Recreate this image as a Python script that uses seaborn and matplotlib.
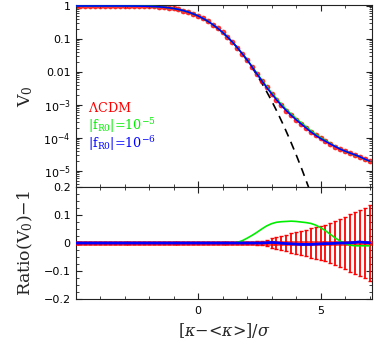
import numpy as np
import pandas as pd
import matplotlib
matplotlib.use("Agg")
import matplotlib.pyplot as plt
import seaborn as sns
from matplotlib.ticker import FixedLocator, MultipleLocator, LogLocator, NullFormatter, FixedFormatter

# ---------------- data ----------------
nu = np.round(np.arange(-5.0, 7.01, 0.2), 1)

lcdm_v0 = [1.0, 1.0, 1.0, 1.0, 1.0, 1.0, 0.9999, 0.9998, 0.9997, 0.9993,
           0.9987, 0.9974, 0.9953, 0.9918, 0.9861, 0.9772, 0.9641, 0.9452, 0.9192, 0.8849,
           0.8413, 0.7881, 0.7257, 0.6554, 0.5793,
           0.500, 0.421, 0.345, 0.274, 0.212, 0.159, 0.115, 0.081, 0.055, 0.036,
           0.0235, 0.0145, 0.0088, 0.0055, 0.0034, 0.0022, 0.00145, 0.00097, 0.00068, 0.00049,
           0.00036, 0.000272, 0.000205, 0.000155, 0.000121, 0.000097, 0.000080, 0.000066, 0.000055, 0.000046,
           0.000040, 0.000035, 0.000031, 0.000027, 0.000023, 0.000020]

lcdm_err = [0.002] * 34 + [0.003, 0.004, 0.005, 0.006, 0.008, 0.012, 0.017, 0.021, 0.025,
                           0.030, 0.035, 0.040, 0.044, 0.048, 0.052, 0.056, 0.060, 0.066,
                           0.072, 0.078, 0.086, 0.094, 0.102, 0.110, 0.118, 0.126, 0.134]

f5_ratio = [0.0] * 33 + [0.002, 0.008, 0.017, 0.027, 0.038, 0.050, 0.061, 0.069, 0.074, 0.076,
                         0.077, 0.078, 0.077, 0.075, 0.073, 0.070, 0.064, 0.055, 0.044, 0.031,
                         0.018, 0.007, -0.002, -0.008, -0.010, -0.010, -0.010, -0.010]

f6_ratio = [0.0] * 39 + [0.001, 0.002, 0.001, -0.001, -0.002, -0.003, -0.004, -0.005, -0.005,
                         -0.005, -0.004, -0.003, -0.002, -0.002, -0.001, 0.0, 0.0, 0.001,
                         0.002, 0.004, 0.002, 0.001]

gauss_nu = [-5.0, -3.0, -2.0, -1.5, -1.0, -0.5, 0.0, 0.5, 1.0, 1.25, 1.5, 1.75, 2.0, 2.25,
            2.5, 2.75, 3.0, 3.25, 3.5, 3.75, 4.0, 4.25, 4.5, 4.75]
gauss_v0 = [1.0, 0.99865, 0.977, 0.933, 0.841, 0.691, 0.5, 0.309, 0.159, 0.106, 0.0668, 0.0401,
            0.0228, 0.0122, 6.21e-3, 2.98e-3, 1.35e-3, 5.77e-4, 2.33e-4, 8.84e-5, 3.17e-5,
            1.07e-5, 3.40e-6, 1.02e-6]

assert len(lcdm_v0) == len(nu) == len(lcdm_err) == len(f5_ratio) == len(f6_ratio)

df = pd.DataFrame({"nu": nu, "lcdm": lcdm_v0, "err": lcdm_err,
                   "r5": f5_ratio, "r6": f6_ratio})
df["f5"] = df["lcdm"] * (1 + df["r5"])
df["f6"] = df["lcdm"] * (1 + df["r6"])
df["zero"] = 0.0
gdf = pd.DataFrame({"nu": gauss_nu, "v0": gauss_v0})

# ---------------- style ----------------
sns.set_style("ticks")
plt.rcParams["font.family"] = ["DejaVu Serif"]
plt.rcParams["mathtext.fontset"] = "custom"
plt.rcParams["mathtext.rm"] = "DejaVu Serif"
plt.rcParams["mathtext.it"] = "DejaVu Serif:italic"
plt.rcParams["mathtext.sf"] = "DejaVu Sans"

W, H = 374, 345
fig = plt.figure(figsize=(W / 100, H / 100), dpi=100)
L, R = 75.5 / W, 372 / W
ax1 = fig.add_axes([L, 1 - 187 / H, R - L, (187 - 5) / H])
ax2 = fig.add_axes([L, 1 - 299 / H, R - L, (299 - 187) / H])

RED, GREEN, BLUE = "#ff0000", "#00ee00", "#0000ff"

# top panel
sns.lineplot(data=gdf, x="nu", y="v0", ax=ax1, color="black", lw=1.2,
             dashes=False, estimator=None, sort=False, zorder=1)
ax1.lines[-1].set_dashes((5, 3.5))
sns.scatterplot(data=df, x="nu", y="lcdm", ax=ax1, color=RED, s=13, marker="o",
                edgecolor=RED, linewidth=0.5, alpha=0.8, zorder=2)
sns.lineplot(data=df, x="nu", y="f5", ax=ax1, color=GREEN, lw=1.2, estimator=None, zorder=3)
sns.lineplot(data=df, x="nu", y="f6", ax=ax1, color=BLUE, lw=1.2, estimator=None, zorder=4)

ax1.set_yscale("log")
ax1.set_xlim(-5.0, 7.1)
ax1.set_ylim(3.27e-6, 1.07)

# bottom panel
ax2.errorbar(df["nu"], df["zero"], yerr=df["err"], fmt="none", ecolor=RED,
             elinewidth=1.3, capsize=1.6, capthick=1.0, zorder=2)
sns.scatterplot(data=df, x="nu", y="zero", ax=ax2, color=RED, s=12, marker="s",
                edgecolor=RED, linewidth=0.5, alpha=0.8, zorder=3)
sns.lineplot(data=df, x="nu", y="r5", ax=ax2, color=GREEN, lw=1.2, estimator=None, zorder=4)
sns.lineplot(data=df, x="nu", y="r6", ax=ax2, color=BLUE, lw=2.0, estimator=None, zorder=5)
ax2.set_xlim(-5.0, 7.1)
ax2.set_ylim(-0.2, 0.2)

# ---------------- ticks ----------------
for ax in (ax1, ax2):
    ax.tick_params(which="both", direction="in", top=True, right=True,
                   colors="#222222", labelcolor="black", labelsize=8)
    ax.tick_params(which="major", length=4.2, width=0.8)
    ax.tick_params(which="minor", length=2.2, width=0.6)
    ax.tick_params(axis="x", pad=5)
    ax.xaxis.set_major_locator(FixedLocator([0, 5]))
    ax.xaxis.set_minor_locator(MultipleLocator(1))
    for sp in ax.spines.values():
        sp.set_linewidth(0.8)
        sp.set_color("#222222")

ax1.xaxis.set_major_formatter(NullFormatter())
ax1.yaxis.set_major_locator(FixedLocator([1, 0.1, 0.01, 1e-3, 1e-4, 1e-5]))
ax1.yaxis.set_major_formatter(FixedFormatter(["1", "0.1", "0.01", r"$\mathsf{10^{-3}}$",
                                              r"$\mathsf{10^{-4}}$", r"$\mathsf{10^{-5}}$"]))
ax1.yaxis.set_minor_locator(LogLocator(base=10, subs=np.arange(2, 10), numticks=20))
ax1.yaxis.set_minor_formatter(NullFormatter())

ax2.yaxis.set_major_locator(FixedLocator([-0.2, -0.1, 0, 0.1, 0.2]))
ax2.yaxis.set_major_formatter(FixedFormatter(["\u22120.2", "\u22120.1", "0", "0.1", "0.2"]))
ax2.yaxis.set_minor_locator(MultipleLocator(0.025))
ax2.xaxis.set_major_formatter(FixedFormatter(["0", "5"]))
for ax in (ax1, ax2):
    for lab in ax.get_xticklabels() + ax.get_yticklabels():
        lab.set_family("DejaVu Sans")

# labels
ax1.set_xlabel("")
ax1.set_ylabel(r"V$_0$", fontsize=12.5, labelpad=6)
ax2.set_ylabel(r"Ratio(V$_0$)$-$1", fontsize=12.5, labelpad=6)
ax2.set_xlabel(r"[$\kappa$$-$<$\kappa$>]/$\sigma$", fontsize=11.5, labelpad=4)
fig.align_ylabels([ax1, ax2])

# legend text
ax1.text(88 / W, 1 - 108 / H, r"$\Lambda$CDM", transform=fig.transFigure, color=RED,
         fontsize=9.2, va="center", ha="left")
ax1.text(88 / W, 1 - 126 / H, r"|f$_{\rm R0}$|=10$^{-5}$", transform=fig.transFigure,
         color=GREEN, fontsize=9.2, va="center", ha="left")
ax1.text(88 / W, 1 - 144 / H, r"|f$_{\rm R0}$|=10$^{-6}$", transform=fig.transFigure,
         color=BLUE, fontsize=9.2, va="center", ha="left")

fig.savefig("out.png", dpi=100)
